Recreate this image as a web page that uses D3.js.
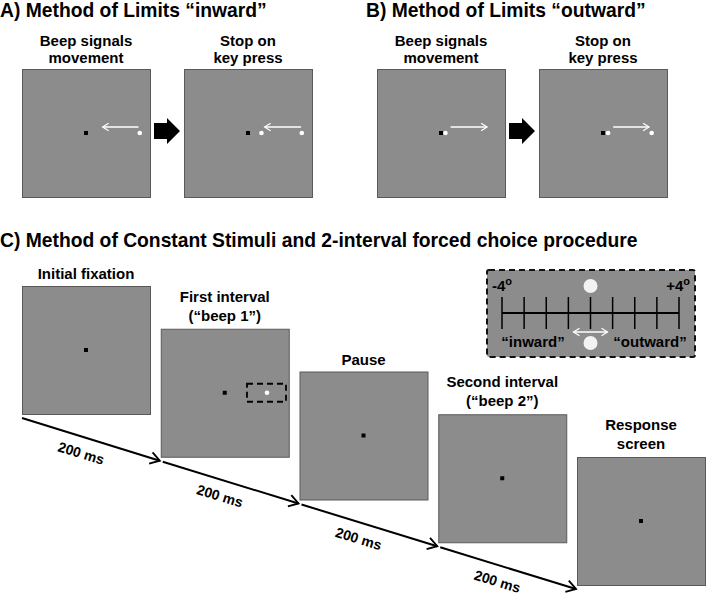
<!DOCTYPE html>
<html>
<head>
<meta charset="utf-8">
<script src="https://cdn.jsdelivr.net/npm/d3@7"></script>
<style>
  body { margin: 0; background: #fff; }
  svg text { font-family: "Liberation Sans", Arial, sans-serif; font-weight: bold; fill: #000; }
</style>
</head>
<body>
<div id="figure"></div>
<script>
// ---- data ----
var panelTitles = ["A) Method of Limits \u201cinward\u201d", "B) Method of Limits \u201coutward\u201d",
  "C) Method of Constant Stimuli and 2-interval forced choice procedure"];
var limitsCaptions = [["Beep signals", "movement"], ["Stop on", "key press"]];

// method of limits frames: white dot positions and arrow (from, to), as fraction of screen width from centre
var limitsDots = [[0.42], [0.105, 0.42], [0.035], [0.04, 0.38]];
var limitsArrows = [[0.41, 0.13], [0.415, 0.13], [0.075, 0.36], [0.08, 0.36]];

var stepLabels = [["Initial fixation"], ["First interval", "(\u201cbeep 1\u201d)"], ["Pause"],
  ["Second interval", "(\u201cbeep 2\u201d)"], ["Response", "screen"]];
var stepDurations = ["200 ms", "200 ms", "200 ms", "200 ms"];
var stepTargets = [null, 0.33, null, null, null];

var scaleDegrees = [-4, -3, -2, -1, 0, 1, 2, 3, 4];
var scaleEndLabels = ["-4", "+4"];
var responseLabels = ["\u201cinward\u201d", "\u201coutward\u201d"];

// ---- layout ----
var W = 706, H = 594
  , screenSize = 128
  , grey = "#8c8c8c"
  , border = "#5a5a5a";

var svg = d3.select("#figure").append("svg")
  .attr("width", W).attr("height", H);

var defs = svg.append("defs");
function chevron(id, color, size) {
  defs.append("marker")
    .attr("id", id)
    .attr("viewBox", "-10 -6 12 12")
    .attr("refX", 0).attr("refY", 0)
    .attr("markerUnits", "userSpaceOnUse")
    .attr("markerWidth", size).attr("markerHeight", size)
    .attr("orient", "auto-start-reverse")
    .append("path")
      .attr("d", "M-8,-5 L0,0 L-8,5")
      .attr("fill", "none")
      .attr("stroke", color)
      .attr("stroke-width", 1.6);
}
chevron("whiteHead", "#fff", 9);
chevron("blackHead", "#000", 14);

function drawScreen(g, x0, y0) {
  g.append("rect")
    .attr("x", x0 + 0.5).attr("y", y0 + 0.5)
    .attr("width", screenSize).attr("height", screenSize)
    .attr("fill", grey).attr("stroke", border).attr("stroke-width", 1);
  var sx = d3.scaleLinear().domain([-0.5, 0.5]).range([x0, x0 + screenSize]);
  var cy = y0 + screenSize / 2;
  g.append("rect")
    .attr("x", sx(0) - 2).attr("y", cy - 2)
    .attr("width", 4).attr("height", 4)
    .attr("fill", "#000");
  return {sx: sx, cy: cy};
}

function multiline(g, lines, cx, baseline, size, lh) {
  g.selectAll(null).data(lines).enter().append("text")
    .attr("x", cx)
    .attr("y", function (d, i) { return baseline + i * lh; })
    .attr("text-anchor", "middle")
    .style("font-size", size + "px")
    .text(function (d) { return d; });
}

// ---- titles ----
svg.selectAll("text.title")
  .data(panelTitles)
  .enter().append("text")
    .attr("class", "title")
    .attr("x", function (d, i) { return i == 1 ? 366 : 0; })
    .attr("y", function (d, i) { return i == 2 ? 247 : 17; })
    .style("font-size", "19.3px")
    .text(function (d) { return d; });

// ---- panels A and B ----
var panelX = [22, 377], frameGap = 162, limitsTop = 69;
limitsDots.forEach(function (dots, k) {
  var panel = ~~(k / 2), frame = k % 2
    , x0 = panelX[panel] + frame * frameGap
    , g = svg.append("g");
  var s = drawScreen(g, x0, limitsTop);
  g.selectAll("circle").data(dots).enter().append("circle")
    .attr("cx", function (d) { return s.sx(d); })
    .attr("cy", s.cy)
    .attr("r", 2.3)
    .attr("fill", "#fff");
  var a = limitsArrows[k];
  g.append("line")
    .attr("x1", s.sx(a[0])).attr("x2", s.sx(a[1]))
    .attr("y1", s.cy - 6).attr("y2", s.cy - 6)
    .attr("stroke", "#fff").attr("stroke-width", 1.3)
    .attr("marker-end", "url(#whiteHead)");
  multiline(g, limitsCaptions[frame], x0 + screenSize / 2, 46, 15, 17);

  if (frame == 0) {
    // block arrow between frames
    var ax = x0 + screenSize + 4, ay = s.cy - 2;
    g.append("path")
      .attr("d", "M" + ax + "," + (ay - 8) + " h13 v-5 l13,13 l-13,13 v-5 h-13 z")
      .attr("fill", "#000");
  }
});

// ---- panel C ----
var stepX = d3.scaleLinear().domain([0, 4]).range([22, 577])
  , stepY = d3.scaleLinear().domain([0, 4]).range([286, 457]);

stepLabels.forEach(function (lines, i) {
  var g = svg.append("g")
    , x0 = stepX(i), y0 = stepY(i);
  var s = drawScreen(g, x0, y0);
  var base = lines.length == 1 ? y0 - 7 : y0 - 27;
  multiline(g, lines, x0 + screenSize / 2, base, 15, 19);
  if (stepTargets[i] != null) {
    var tx = s.sx(stepTargets[i]);
    g.append("circle").attr("cx", tx).attr("cy", s.cy).attr("r", 2.3).attr("fill", "#fff");
    g.append("rect")
      .attr("x", tx - 20).attr("y", s.cy - 9)
      .attr("width", 39).attr("height", 18)
      .attr("fill", "none").attr("stroke", "#000")
      .attr("stroke-width", 1.8).attr("stroke-dasharray", "6,4");
  }
});

// timeline
var timeline = d3.range(5).map(function (i) {
  return [stepX(i), stepY(i) + screenSize + 4];
});
stepDurations.forEach(function (label, i) {
  var p0 = timeline[i], p1 = timeline[i + 1];
  svg.append("line")
    .attr("x1", p0[0] + (i ? 2 : 0)).attr("y1", p0[1] + (i ? 1 : 0))
    .attr("x2", p1[0] - 1).attr("y2", p1[1])
    .attr("stroke", "#000").attr("stroke-width", 2)
    .attr("marker-end", "url(#blackHead)");
  var ang = Math.atan2(p1[1] - p0[1], p1[0] - p0[0])
    , mx = (p0[0] + p1[0]) / 2, my = (p0[1] + p1[1]) / 2
    , off = 14.5
    , lx = mx - Math.sin(ang) * off - 6
    , ly = my + Math.cos(ang) * off;
  svg.append("text")
    .attr("transform", "translate(" + lx + "," + ly + ") rotate(" + (ang * 180 / Math.PI) + ")")
    .attr("text-anchor", "middle")
    .attr("dy", "0.35em")
    .style("font-size", "14px")
    .text(label);
});

// inset: stimulus range
var inset = svg.append("g");
inset.append("rect")
  .attr("x", 487).attr("y", 270).attr("width", 208).attr("height", 87)
  .attr("fill", grey).attr("stroke", "#111")
  .attr("stroke-width", 2).attr("stroke-dasharray", "6,4").attr("rx", 2);
var deg = d3.scaleLinear().domain([-4, 4]).range([502, 679]);
var axisY = 313;
inset.append("line")
  .attr("x1", deg(-4)).attr("x2", deg(4))
  .attr("y1", axisY).attr("y2", axisY)
  .attr("stroke", "#000").attr("stroke-width", 2);
inset.selectAll("line.tick").data(scaleDegrees).enter().append("line")
  .attr("class", "tick")
  .attr("x1", function (d) { return deg(d); }).attr("x2", function (d) { return deg(d); })
  .attr("y1", axisY - 16).attr("y2", axisY + 16)
  .attr("stroke", "#000").attr("stroke-width", 1.5);
inset.selectAll("text.end").data(scaleEndLabels).enter().append("text")
  .attr("class", "end")
  .attr("x", function (d, i) { return i ? 690 : 492; })
  .attr("y", 291)
  .attr("text-anchor", function (d, i) { return i ? "end" : "start"; })
  .style("font-size", "15px")
  .text(function (d) { return d; })
  .append("tspan")
    .attr("dy", -6)
    .style("font-size", "11px")
    .text("o");
inset.selectAll("circle").data([286, 343]).enter().append("circle")
  .attr("cx", deg(0)).attr("cy", function (d) { return d; })
  .attr("r", 7).attr("fill", "#f2f2f2");
inset.append("line")
  .attr("x1", deg(0) - 17).attr("x2", deg(0) + 17)
  .attr("y1", 332).attr("y2", 332)
  .attr("stroke", "#fff").attr("stroke-width", 1.3)
  .attr("marker-start", "url(#whiteHead)")
  .attr("marker-end", "url(#whiteHead)");
inset.selectAll("text.resp").data(responseLabels).enter().append("text")
  .attr("class", "resp")
  .attr("x", function (d, i) { return i ? 650 : 533; })
  .attr("y", 347)
  .attr("text-anchor", "middle")
  .style("font-size", "15px")
  .text(function (d) { return d; });
</script>
</body>
</html>
